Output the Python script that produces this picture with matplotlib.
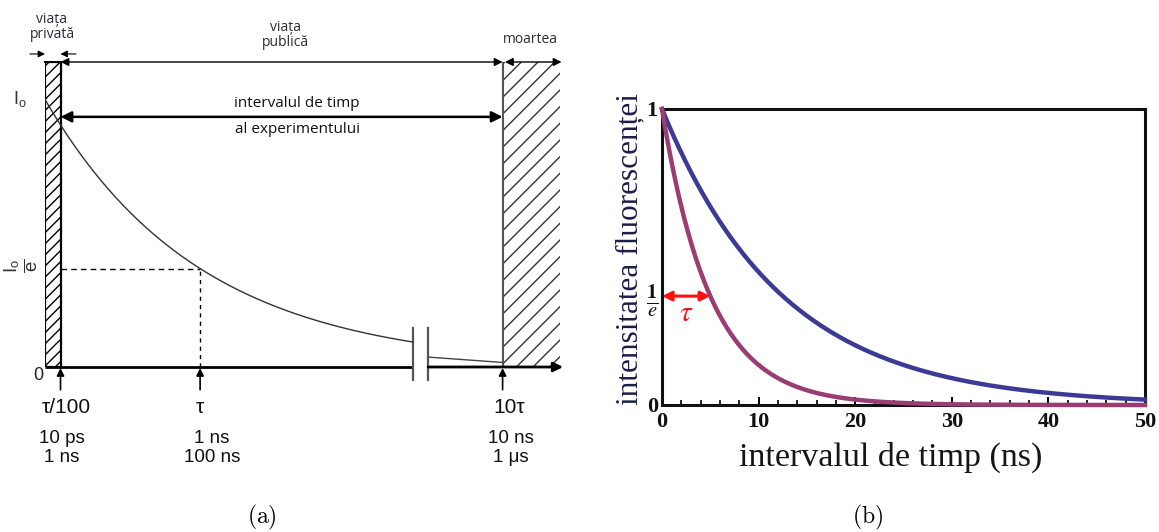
import numpy as np
import matplotlib.pyplot as plt
from matplotlib.patches import Rectangle
from matplotlib.ticker import MultipleLocator

# ---- (a) schematic decay: time axis in units of tau (compressed past the break)
tau_a = 1.0
tick_pos = [0.1, 1.0, 2.95]
tick_labels = ["τ/100", "τ", "10τ"]
time_labels = ["10 ps\n1 ns", "1 ns\n100 ns", "10 ns\n1 μs"]
break_pos = [2.37, 2.47]
tail_t = [2.47, 2.95]
tail_i = [0.037, 0.017]
x_end = 3.32
y_top = 1.14

# ---- (b) two fluorescence decays (lifetimes in ns)
tau_blue = 12.5
tau_purple = 5.0
t_max = 50
x_major = [0, 10, 20, 30, 40, 50]
y_ticks = [0, 1 / np.e, 1]
y_tick_labels = ["0", r"$\frac{\mathbf{1}}{\mathbf{\mathit{e}}}$", "1"]

plt.rcParams["mathtext.fontset"] = "stix"

W, H = 1159, 532
fig = plt.figure(figsize=(W / 100, H / 100), dpi=100)


def box(x0, y0, x1, y1):
    # pixel box (top-left origin) -> figure fraction rect
    return [x0 / W, 1 - y1 / H, (x1 - x0) / W, (y1 - y0) / H]


def arrow(ax, p0, p1, style="<|-|>", lw=1.2, ms=12, color="black"):
    ax.annotate("", xy=p1, xytext=p0, annotation_clip=False,
                arrowprops=dict(arrowstyle=style, color=color, lw=lw,
                                mutation_scale=ms, shrinkA=0, shrinkB=0))


# =============================== panel (a) ===============================
ax = fig.add_axes(box(45, 62, 560, 367))
ax.set_xlim(0, x_end)
ax.set_ylim(0, y_top)
ax.axis("off")
px = x_end / 515  # one pixel in x data units

sans = "Open Sans"
txt_col = "#2b2b33"

# hatched "private life" and "death" regions
ax.add_patch(Rectangle((0, 0), tick_pos[0], y_top, facecolor="white",
                       edgecolor="black", hatch="///", lw=1.6, zorder=2))
ax.add_patch(Rectangle((tick_pos[2], 0), x_end - tick_pos[2], y_top, facecolor="none",
                       edgecolor="#333333", hatch="//", lw=0, zorder=1))
ax.plot([tick_pos[2], tick_pos[2]], [0, y_top], color="#555555", lw=1.5, zorder=3)

# decay curve with the axis break
t = np.linspace(0, break_pos[0], 300)
ax.plot(t, np.exp(-t / tau_a), color="#333333", lw=1.0, zorder=4)
ax.plot(tail_t, tail_i, color="#444444", lw=1.0, zorder=4)

# I0/e guide lines
ax.plot([tick_pos[0], tau_a], [np.exp(-1), np.exp(-1)], color="black", lw=1.0, ls=(0, (4, 3)))
ax.plot([tau_a, tau_a], [0, np.exp(-1)], color="black", lw=1.0, ls=(0, (3, 3)))

# baseline, interrupted at the break
ax.plot([0, break_pos[0]], [0, 0], color="black", lw=2, solid_capstyle="butt", clip_on=False)
arrow(ax, (break_pos[1], 0), (x_end + 0.02, 0), style="-|>", lw=2, ms=14)
for xb in break_pos:
    ax.plot([xb, xb], [-0.05, 0.146], color="#555555", lw=1.6, clip_on=False)

# top rule and time-window arrows
ax.plot([0, tick_pos[0]], [y_top, y_top], color="black", lw=1.4, clip_on=False)
arrow(ax, (tick_pos[0], y_top), (tick_pos[2], y_top), lw=1.0, ms=12)
arrow(ax, (tick_pos[2] + 0.015, y_top), (x_end + 0.01, y_top), lw=1.0, ms=12)
arrow(ax, (-0.097, 1.17), (0, 1.17), style="-|>", lw=0.8, ms=10)
arrow(ax, (0.2, 1.17), (tick_pos[0], 1.17), style="-|>", lw=0.8, ms=10)
arrow(ax, (tick_pos[0], 0.935), (tick_pos[2], 0.935), lw=1.8, ms=16)

ax.text(0.045, 1.27, "viața\nprivată", ha="center", va="center", fontsize=10,
        family=sans, color=txt_col, linespacing=1.0)
ax.text(1.55, 1.24, "viața\npublică", ha="center", va="center", fontsize=10,
        family=sans, color=txt_col, linespacing=1.0)
ax.text(3.13, 1.225, "moartea", ha="center", va="center", fontsize=10,
        family=sans, color=txt_col)
ax.text(1.625, 0.955, "intervalul de timp", ha="center", va="bottom", fontsize=11,
        family=sans, color="#111111")
ax.text(1.625, 0.915, "al experimentului", ha="center", va="top", fontsize=11,
        family=sans, color="#111111")

ax.text(-0.165, 1.0, r"$\mathregular{I_o}$", ha="center", va="center", fontsize=13,
        family="Liberation Sans", color="#333333")
ax.text(-0.148, 0.38, r"$\mathregular{\frac{I_o}{e}}$", ha="center", va="center",
        fontsize=19, rotation=90, family="Liberation Sans", color="#333333")
ax.text(-0.045, -0.03, "0", ha="center", va="center", fontsize=13,
        family="Liberation Sans", color="#222222")

label_shift = [6, 0, 7]   # px nudges for the tick captions
time_shift = [1, 12, 8]
for xp, lab, tl, ds, dt in zip(tick_pos, tick_labels, time_labels, label_shift, time_shift):
    arrow(ax, (xp, -0.085), (xp, -0.004), style="-|>", lw=1.2, ms=11)
    ax.text(xp + ds * px, -0.152, lab, ha="center", va="center", fontsize=15,
            family="Liberation Sans", color="#111111")
    ax.text(xp + dt * px, -0.303, tl, ha="center", va="center", fontsize=13.5,
            family="Liberation Sans", color="#111111", linespacing=1.2)

# =============================== panel (b) ===============================
bx = fig.add_axes(box(662, 109, 1145, 405))
tt = np.linspace(0, t_max, 500)
bx.plot(tt, np.exp(-tt / tau_blue), color="#3d3a96", lw=3.2, clip_on=False, zorder=3)
bx.plot(tt, np.exp(-tt / tau_purple), color="#9a3d72", lw=3.2, clip_on=False, zorder=3)
bx.set_xlim(0, t_max)
bx.set_ylim(0, 1)

arrow(bx, (0, 1 / np.e), (tau_purple, 1 / np.e), lw=2.2, ms=14, color="#ff1010")
bx.text(tau_purple / 2, 0.31, r"$\tau$", color="#ff1010", fontsize=21,
        ha="center", va="center")

for s in bx.spines.values():
    s.set_linewidth(2.2)
    s.set_color("#111111")

serif = "Liberation Serif"
bx.set_xticks(x_major)
bx.xaxis.set_minor_locator(MultipleLocator(2))
bx.tick_params(axis="x", which="major", direction="in", length=6, width=1.4, pad=5)
bx.tick_params(axis="x", which="minor", direction="in", length=3.5, width=1.2)
bx.set_yticks(y_ticks)
bx.set_yticklabels(y_tick_labels)
bx.tick_params(axis="y", length=0, pad=3)
for lab in bx.get_xticklabels() + bx.get_yticklabels():
    lab.set_fontfamily(serif)
    lab.set_fontweight("bold")
    lab.set_fontsize(16)
    lab.set_color("#111111")
bx.get_yticklabels()[1].set_fontsize(21)

bx.set_xlabel("intervalul de timp (ns)", family=serif, fontsize=24.5, color="#151515")
bx.xaxis.set_label_coords(0.474, -0.125)
bx.set_ylabel("intensitatea fluorescenței", family=serif, fontsize=22.5, color="#1d1d4a")
bx.yaxis.set_label_coords(-0.037, 0.527)

# sub-figure captions
fig.text(262 / W, 1 - 517 / H, r"$\mathrm{(a)}$", ha="center", va="center",
         fontsize=17, math_fontfamily="cm")
fig.text(868 / W, 1 - 517 / H, r"$\mathrm{(b)}$", ha="center", va="center",
         fontsize=17, math_fontfamily="cm")

fig.savefig("out.png", dpi=100)
